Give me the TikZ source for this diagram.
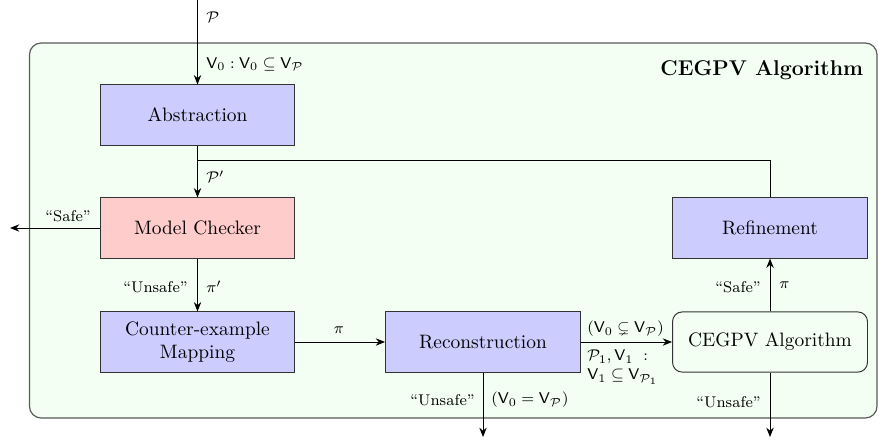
\documentclass[tikz,border=0pt]{standalone}
\usepackage{amsmath,amssymb}
\usetikzlibrary{arrows.meta}
\definecolor{bgc}{RGB}{242,255,242}
\definecolor{bluec}{RGB}{204,204,255}
\definecolor{redc}{RGB}{255,204,204}
\begin{document}
\begin{tikzpicture}[x=0.515pt,y=-0.515pt,
  boxbase/.style={draw=black!80, line width=0.5pt, minimum width=100.4pt, minimum height=31pt, align=center, inner sep=2pt},
  bluebox/.style={boxbase, fill=bluec},
  redbox/.style={boxbase, fill=redc},
  algbox/.style={boxbase, fill=bgc, rounded corners=5pt},
  lbl/.style={font=\footnotesize, inner sep=1pt},
  arr/.style={line width=0.5pt, -{Stealth[length=4.8pt,width=3.8pt]}},
  ln/.style={line width=0.5pt}]
\useasboundingbox (0,0) rectangle (879,439);
\draw[draw=black!65, fill=bgc, line width=0.6pt, rounded corners=6pt] (29.5,43) rectangle (877,418);
\node[font=\bfseries\fontsize{11}{13}\selectfont, anchor=east] (title) at (870,70) {CEGPV Algorithm};

\node[bluebox] (abs) at (197.5,115) {Abstraction};
\node[redbox] (mc) at (197.5,228) {Model Checker};
\node[bluebox] (cem) at (197.5,342) {Counter-example\\Mapping};
\node[bluebox] (rec) at (483,342) {Reconstruction};
\node[algbox] (alg) at (770,342) {CEGPV Algorithm};
\node[bluebox] (ref) at (770,228) {Refinement};

\coordinate (top) at (197.5,0);
\coordinate (safeL) at (10,228);
\coordinate (fb) at (197.5,160);
\coordinate (recB) at (483,437);
\coordinate (algB) at (770,437);

\draw[arr] (top) -- (abs.north);
\node[lbl, anchor=west] (lp) at (204,17) {$\mathcal{P}$};
\node[lbl, anchor=west] (lv) at (204,64) {$\mathsf{V}_0 : \mathsf{V}_0 \subseteq \mathsf{V}_{\mathcal{P}}$};

\draw[arr] (abs.south) -- (mc.north);
\draw[ln] (ref.north) |- (fb);
\node[lbl, anchor=west] (lpp) at (204,177) {$\mathcal{P}'$};

\draw[arr] (mc.west) -- (safeL);
\node[lbl] (ls) at (68,216) {``Safe''};

\draw[arr] (mc.south) -- (cem.north);
\node[lbl, anchor=east] (lu1) at (190,287) {``Unsafe''};
\node[lbl, anchor=west] (lpi1) at (204,287) {$\pi'$};

\draw[arr] (cem.east) -- (rec.west);
\node[lbl] (lpi2) at (339,330) {$\pi$};

\draw[arr] (rec.east) -- (alg.west);
\node[lbl, anchor=west] (lsub) at (585,329) {$(\mathsf{V}_0 \subsetneq \mathsf{V}_{\mathcal{P}})$};
\node[lbl, anchor=west] (lp1) at (585,357) {$\mathcal{P}_1, \mathsf{V}_1\ :$};
\node[lbl, anchor=west] (lp2) at (585,377) {$\mathsf{V}_1 \subseteq \mathsf{V}_{\mathcal{P}_1}$};

\draw[arr] (rec.south) -- (recB);
\node[lbl, anchor=east] (lu2) at (477,400) {``Unsafe''};
\node[lbl, anchor=west] (leq) at (489,400) {$(\mathsf{V}_0 = \mathsf{V}_{\mathcal{P}})$};

\draw[arr] (alg.north) -- (ref.south);
\node[lbl, anchor=east] (ls2) at (763,287) {``Safe''};
\node[lbl, anchor=west] (lpi3) at (777,285) {$\pi$};

\draw[arr] (alg.south) -- (algB);
\node[lbl, anchor=east] (lu3) at (763,402) {``Unsafe''};
\end{tikzpicture}
\end{document}
